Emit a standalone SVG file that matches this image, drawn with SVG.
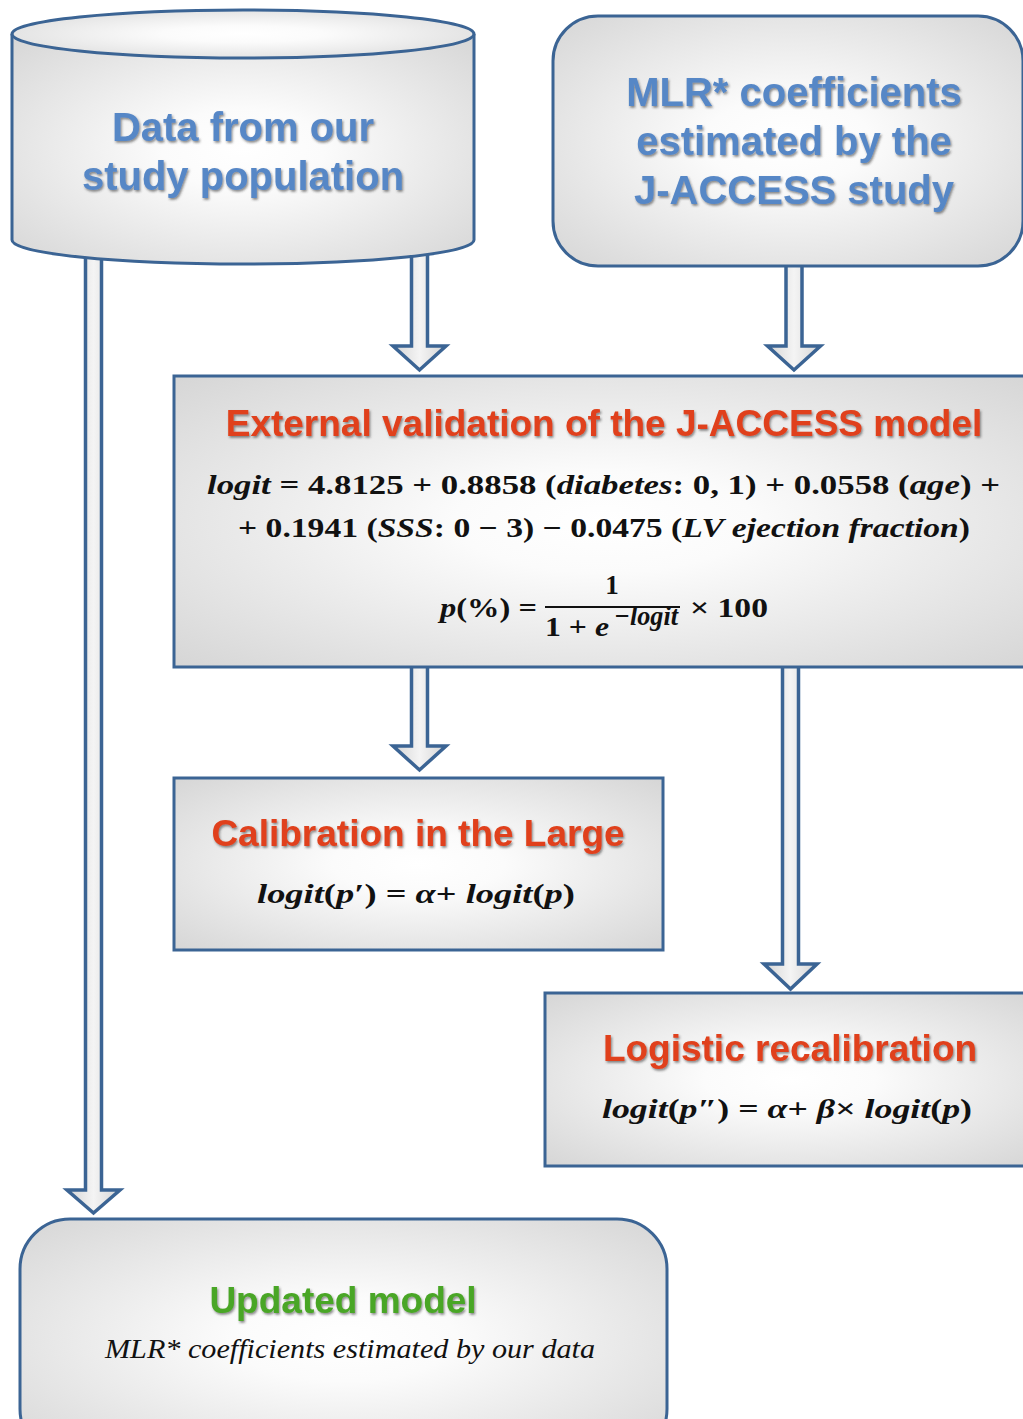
<svg xmlns="http://www.w3.org/2000/svg" width="1023" height="1419" viewBox="0 0 1023 1419">
  <defs>
    <radialGradient id="boxFill" cx="0.5" cy="0.5" r="0.7">
      <stop offset="0" stop-color="#ffffff"/>
      <stop offset="0.25" stop-color="#fbfbfb"/>
      <stop offset="1" stop-color="#d6d6d6"/>
    </radialGradient>
    <linearGradient id="arrowFill" x1="0" y1="0" x2="1" y2="0">
      <stop offset="0" stop-color="#d4d4d4"/>
      <stop offset="0.5" stop-color="#f4f4f4"/>
      <stop offset="1" stop-color="#d4d4d4"/>
    </linearGradient>
    <filter id="shadow" x="-5%" y="-20%" width="110%" height="150%">
      <feDropShadow dx="1.2" dy="1.8" stdDeviation="0.8" flood-color="#303030" flood-opacity="0.55"/>
    </filter>
  </defs>
  <style>
    .box { fill: url(#boxFill); stroke: #3b6494; stroke-width: 3; }
    .arrow { fill: url(#arrowFill); stroke: #3b6494; stroke-width: 3.5; stroke-linejoin: miter; }
    .blue { font-family: "Liberation Sans", Arial, sans-serif; font-weight: bold; font-size: 40px; fill: #5787c6; text-anchor: middle; filter: url(#shadow); }
    .red { font-family: "Liberation Sans", Arial, sans-serif; font-weight: bold; font-size: 37px; fill: #e0401a; text-anchor: middle; filter: url(#shadow); }
    .green { font-family: "Liberation Sans", Arial, sans-serif; font-weight: bold; font-size: 37px; fill: #4aa625; text-anchor: middle; filter: url(#shadow); }
    .math { font-family: "Liberation Serif", "DejaVu Serif", serif; font-weight: bold; font-size: 27px; fill: #111; }
    .it { font-style: italic; }
    .note { font-family: "Liberation Serif", "DejaVu Serif", serif; font-style: italic; font-size: 27px; fill: #111; }
  </style>

  <g id="connectors">
    <path class="arrow" d="M85.5,250 H101.5 V1190 H120 L93.5,1213 L67,1190 H85.5 Z"/>
    <path class="arrow" d="M411.5,250 H427.5 V346 H446 L419.5,370 L393,346 H411.5 Z"/>
    <path class="arrow" d="M786,258 H802 V346 H820.5 L794,370 L767.5,346 H786 Z"/>
    <path class="arrow" d="M411.5,660 H427.5 V746 H446 L419.5,770 L393,746 H411.5 Z"/>
    <path class="arrow" d="M782.5,660 H798.5 V964 H817 L790.5,989 L764,964 H782.5 Z"/>
  </g>

  <g id="node-data">
    <path class="box" d="M12,34 V240 A231,24 0 0 0 474,240 V34"/>
    <ellipse class="box" cx="243" cy="34" rx="231" ry="24"/>
    <text class="blue" x="243" y="141">Data from our</text>
    <text class="blue" x="243" y="190">study population</text>
  </g>

  <g id="node-mlr">
    <rect class="box" x="553" y="16" width="470" height="250" rx="45" ry="45"/>
    <text class="blue" x="794" y="106">MLR* coefficients</text>
    <text class="blue" x="794" y="155">estimated by the</text>
    <text class="blue" x="794" y="204">J-ACCESS study</text>
  </g>

  <g id="node-external">
    <rect class="box" x="174" y="376" width="860" height="291"/>
    <text class="red" x="604" y="436">External validation of the J-ACCESS model</text>
    <text class="math" x="207" y="494" textLength="793" lengthAdjust="spacingAndGlyphs"><tspan class="it">logit</tspan> =  4.8125 + 0.8858 (<tspan class="it">diabetes</tspan>: 0, 1) + 0.0558 (<tspan class="it">age</tspan>) +</text>
    <text class="math" x="238" y="537" textLength="732" lengthAdjust="spacingAndGlyphs">+ 0.1941 (<tspan class="it">SSS</tspan>: 0 − 3) − 0.0475 (<tspan class="it">LV ejection fraction</tspan>)</text>
    <text class="math" x="440" y="617" textLength="97" lengthAdjust="spacingAndGlyphs"><tspan class="it">p</tspan>(%) =</text>
    <text class="math" x="612" y="594" text-anchor="middle">1</text>
    <line x1="545" y1="607" x2="680" y2="607" stroke="#111" stroke-width="2"/>
    <text class="math" x="545" y="636" textLength="64" lengthAdjust="spacingAndGlyphs">1 + <tspan class="it">e</tspan></text>
    <text class="math it" x="614" y="625" font-size="18" textLength="64" lengthAdjust="spacingAndGlyphs">−logit</text>
    <text class="math" x="690" y="617" textLength="78" lengthAdjust="spacingAndGlyphs">× 100</text>
  </g>

  <g id="node-calibration">
    <rect class="box" x="174" y="778" width="489" height="172"/>
    <text class="red" x="418" y="846">Calibration in the Large</text>
    <text class="math" x="257" y="903" textLength="318" lengthAdjust="spacingAndGlyphs"><tspan class="it">logit</tspan>(<tspan class="it">p</tspan>′) = <tspan class="it">α</tspan>+ <tspan class="it">logit</tspan>(<tspan class="it">p</tspan>)</text>
  </g>

  <g id="node-logistic">
    <rect class="box" x="545" y="993" width="490" height="173"/>
    <text class="red" x="790" y="1061">Logistic recalibration</text>
    <text class="math" x="602" y="1118" textLength="370" lengthAdjust="spacingAndGlyphs"><tspan class="it">logit</tspan>(<tspan class="it">p</tspan>″) = <tspan class="it">α</tspan>+ <tspan class="it">β</tspan>× <tspan class="it">logit</tspan>(<tspan class="it">p</tspan>)</text>
  </g>

  <g id="node-updated">
    <rect class="box" x="20" y="1219" width="647" height="240" rx="50" ry="50"/>
    <text class="green" x="343" y="1313">Updated model</text>
    <text class="note" x="105" y="1358" textLength="490" lengthAdjust="spacingAndGlyphs">MLR* coefficients estimated by our data</text>
  </g>
</svg>
